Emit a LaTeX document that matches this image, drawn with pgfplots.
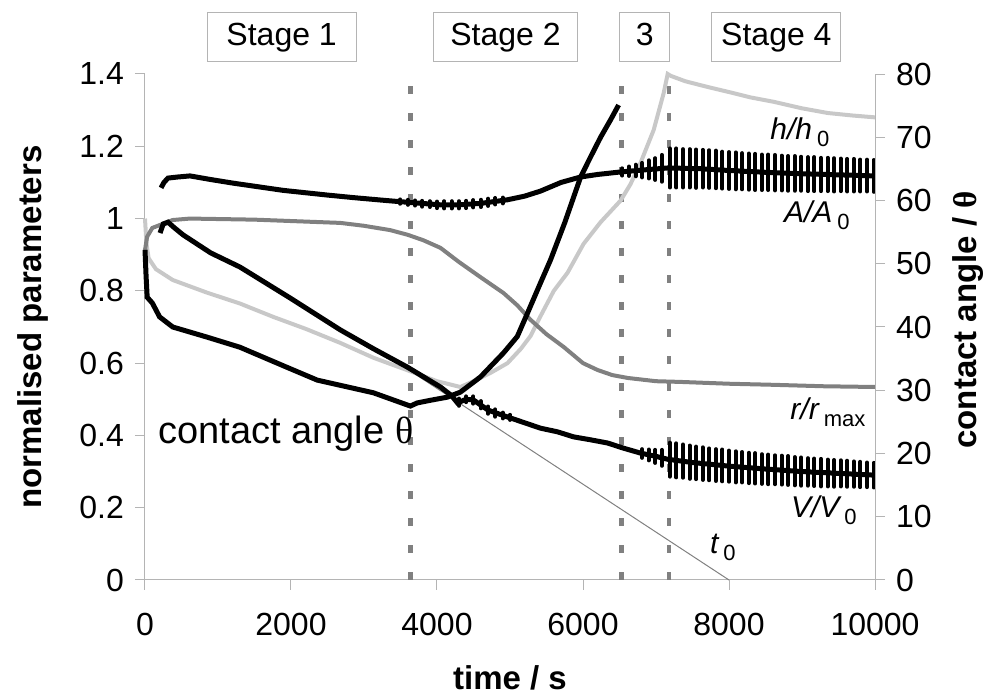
\documentclass[border=0pt]{standalone}
\usepackage{fontspec}
\setmainfont{Liberation Sans}
\newfontfamily\serifgr{Liberation Serif}
\usepackage{pgfplots}
\pgfplotsset{compat=1.18}
\usepackage{pgfplotstable}
\definecolor{lgray}{RGB}{200,200,200}
\definecolor{mgray}{RGB}{128,128,128}
\definecolor{axgray}{RGB}{180,180,180}
\definecolor{dgray}{RGB}{128,128,128}
\newcommand\tickfont{\fontsize{16}{19}\selectfont}
\newcommand\labfont{\fontsize{16.5}{20}\selectfont\bfseries}
\newcommand\curvefont{\fontsize{15}{18}\selectfont\itshape}
\newcommand\sub[1]{\,{\upshape\fontsize{11}{12}\selectfont\raisebox{-3.5pt}{#1}}}

% h/h0 (light grey)
\pgfplotstableread{
t v
0 1.00
20 0.93
50 0.89
150 0.86
380 0.83
850 0.795
1300 0.765
1756 0.728
2200 0.695
2675 0.656
3128 0.615
3600 0.58
4000 0.55
4321 0.534
4500 0.55
4733 0.573
4966 0.60
5150 0.64
5281 0.675
5418 0.73
5600 0.80
5788 0.85
6008 0.93
6241 0.99
6516 1.05
6650 1.095
6790 1.155
6968 1.245
7105 1.347
7160 1.40
7200 1.395
7400 1.38
7709 1.364
8000 1.35
8300 1.335
8614 1.323
9000 1.305
9355 1.292
9700 1.285
10000 1.28
}\hdata
% r/rmax (mid grey)
\pgfplotstableread{
t v
0 0.913
30 0.95
100 0.974
380 0.996
617 1.0
1500 0.997
2675 0.988
3000 0.98
3360 0.968
3600 0.955
3813 0.94
4047 0.919
4300 0.88
4595 0.838
4911 0.794
5100 0.76
5281 0.72
5500 0.68
5734 0.645
6000 0.60
6200 0.581
6400 0.567
6612 0.559
7000 0.55
7339 0.548
8000 0.543
8614 0.54
9300 0.536
10000 0.534
}\rdata
% A/A0 (black)
\pgfplotstableread{
t v
220 1.085
260 1.10
315 1.112
450 1.115
617 1.118
900 1.108
1207 1.098
1893 1.078
2500 1.065
2853 1.058
3300 1.05
3600 1.045
4047 1.038
4300 1.038
4600 1.042
4966 1.052
5200 1.062
5418 1.076
5700 1.10
5967 1.115
6200 1.122
6516 1.129
6800 1.134
7160 1.14
7600 1.138
8000 1.133
8500 1.128
9000 1.124
9500 1.121
10000 1.118
}\adata
\pgfplotstableread{
t v e
3500 1.047 0.006
3600 1.045 0.007
3700 1.043 0.007
3800 1.041 0.008
3900 1.040 0.008
4000 1.038 0.009
4100 1.038 0.010
4200 1.038 0.010
4300 1.038 0.010
4400 1.039 0.010
4500 1.041 0.010
4600 1.042 0.010
4700 1.045 0.010
4800 1.048 0.009
4900 1.050 0.008
6540 1.129 0.010
6630 1.131 0.013
6720 1.133 0.016
6810 1.134 0.020
6900 1.136 0.025
6990 1.137 0.030
7080 1.139 0.037
7190 1.140 0.054
7280 1.140 0.054
7370 1.139 0.053
7460 1.139 0.053
7550 1.138 0.053
7640 1.138 0.052
7730 1.137 0.052
7820 1.136 0.052
7910 1.134 0.051
8000 1.133 0.051
8090 1.132 0.051
8180 1.131 0.050
8270 1.130 0.050
8360 1.129 0.050
8450 1.128 0.049
8540 1.128 0.049
8630 1.127 0.049
8720 1.126 0.048
8810 1.125 0.048
8900 1.125 0.048
8990 1.124 0.047
9080 1.123 0.047
9170 1.123 0.047
9260 1.122 0.046
9350 1.122 0.046
9440 1.121 0.046
9530 1.121 0.045
9620 1.120 0.045
9710 1.120 0.045
9800 1.119 0.044
9890 1.119 0.044
9980 1.118 0.044
}\abars
% V/V0 (black)
\pgfplotstableread{
t v
206 0.96
250 0.985
315 0.99
400 0.975
521 0.955
900 0.905
1300 0.866
1990 0.78
2675 0.692
3128 0.64
3594 0.589
4047 0.534
4200 0.51
4280 0.49
4400 0.50
4500 0.498
4700 0.47
4966 0.451
5200 0.435
5418 0.42
5650 0.41
5871 0.396
6100 0.388
6337 0.379
6550 0.365
6790 0.351
7000 0.342
7160 0.334
7500 0.325
8000 0.315
8500 0.307
9000 0.30
9500 0.295
10000 0.29
}\vdata
\pgfplotstableread{
t v e
4300 0.492 0.010
4400 0.500 0.008
4500 0.498 0.010
4600 0.485 0.010
4700 0.470 0.010
4800 0.462 0.010
4900 0.455 0.008
5000 0.450 0.007
6810 0.350 0.012
6900 0.346 0.015
6990 0.342 0.018
7080 0.338 0.022
7190 0.333 0.047
7280 0.331 0.047
7370 0.329 0.046
7460 0.326 0.046
7550 0.324 0.045
7640 0.322 0.045
7730 0.320 0.044
7820 0.318 0.044
7910 0.317 0.044
8000 0.315 0.043
8090 0.313 0.043
8180 0.312 0.042
8270 0.310 0.042
8360 0.309 0.042
8450 0.307 0.041
8540 0.306 0.041
8630 0.305 0.040
8720 0.304 0.040
8810 0.303 0.040
8900 0.301 0.039
8990 0.300 0.039
9080 0.299 0.038
9170 0.298 0.038
9260 0.297 0.038
9350 0.296 0.037
9440 0.295 0.037
9530 0.295 0.036
9620 0.294 0.036
9710 0.293 0.035
9800 0.292 0.035
9890 0.291 0.034
9980 0.290 0.034
}\vbars
% contact angle (black, right axis, degrees)
\pgfplotstableread{
t th
0 52.2
15 48
30 44.7
100 43.8
200 41.6
380 40.0
850 38.4
1300 36.8
1950 33.6
2360 31.6
3128 29.6
3635 27.5
3730 28.0
3950 28.5
4140 28.9
4320 29.7
4595 32.1
4911 35.9
5100 38.5
5240 42.2
5400 46.5
5555 50.6
5750 56.5
5967 63.7
6100 66.8
6241 70.0
6380 72.8
6488 75.1
}\thdata

\begin{document}
\begin{tikzpicture}
\begin{axis}[name=main,
  scale only axis, width=365pt, height=253pt,
  xmin=0, xmax=10000, ymin=0, ymax=1.4,
  axis x line*=bottom, axis y line*=left,
  axis line style={draw=axgray, line width=0.5pt},
  tick align=outside, major tick length=5pt,
  tick style={draw=axgray, line width=0.5pt},
  xtick={0,2000,4000,6000,8000,10000},
  ytick={0,0.2,0.4,0.6,0.8,1,1.2,1.4},
  scaled x ticks=false, scaled y ticks=false,
  minor tick num=0,
  tick label style={font=\tickfont},
  /pgf/number format/assume math mode=true,
  /pgf/number format/1000 sep={},
  xticklabel style={yshift=-8pt},
  yticklabel style={xshift=-2pt},
  xlabel={time / s},
  ylabel={normalised parameters},
  x label style={at={(rel axis cs:0.5,0)}, anchor=base, yshift=-55pt, font=\labfont},
  y label style={at={(rel axis cs:-0.1534,0.5)}, anchor=center, rotate=0, font=\labfont},
  clip=false,
]
% stage dividers
\draw[dgray, line width=2.2pt, dash pattern=on 4pt off 9.5pt] (axis cs:3635,0) -- (axis cs:3635,1.37);
\draw[dgray, line width=2.2pt, dash pattern=on 4pt off 9.5pt] (axis cs:6530,0) -- (axis cs:6530,1.37);
\draw[dgray, line width=2.2pt, dash pattern=on 4pt off 9.5pt] (axis cs:7174,0) -- (axis cs:7174,1.37);
% t0 extrapolation
\addplot[mgray, line width=0.5pt] coordinates {(3600,0.583) (8000,0)};
\addplot[lgray, line width=2pt] table[x=t,y=v] {\hdata};
\addplot[mgray, line width=2pt] table[x=t,y=v] {\rdata};
\addplot[black, line width=2.5pt] table[x=t,y=v] {\adata};
\addplot[draw=none, forget plot, error bars/.cd, y dir=both, y explicit, error mark=none,
  error bar style={draw=black, solid, line width=2pt, line cap=round}]
  table[x=t,y=v,y error=e] {\abars};
\addplot[black, line width=2.5pt] table[x=t,y=v] {\vdata};
\addplot[draw=none, forget plot, error bars/.cd, y dir=both, y explicit, error mark=none,
  error bar style={draw=black, solid, line width=2pt, line cap=round}]
  table[x=t,y=v,y error=e] {\vbars};
% curve labels
\node[font=\curvefont] at (axis cs:8971,1.240) {h/h\sub{0}};
\node[font=\curvefont] at (axis cs:9204,1.010) {A/A\sub{0}};
\node[font=\curvefont] at (axis cs:9355,0.465) {r/r\sub{max}};
\node[font=\curvefont] at (axis cs:9300,0.194) {V/V\sub{0}};
\node[font=\curvefont] at (axis cs:7915,0.089) {t\sub{0}};
\node[anchor=base west, inner sep=0pt, font=\fontsize{19}{22}\selectfont] at (axis cs:178,0.379) {contact angle {\serifgr θ}};
% stage boxes
\tikzset{stagebox/.style={draw=axgray, line width=0.5pt, fill=white, minimum height=24.5pt, inner sep=0pt, text height=11.5pt, text depth=3.5pt, font=\tickfont}}
\node[stagebox, minimum width=74.5pt] at (axis cs:1872,1.501) {Stage 1};
\node[stagebox, minimum width=72pt] at (axis cs:4938,1.501) {Stage 2};
\node[stagebox, minimum width=25pt] at (axis cs:6845,1.501) {3};
\node[stagebox, minimum width=64.5pt] at (axis cs:8649,1.501) {Stage 4};
\end{axis}
\begin{axis}[
  scale only axis, width=365pt, height=253pt,
  xmin=0, xmax=10000, ymin=0, ymax=80,
  axis x line=none, axis y line*=right,
  axis line style={draw=axgray, line width=0.5pt},
  tick align=outside, major tick length=5pt,
  tick style={draw=axgray, line width=0.5pt},
  ytick={0,10,20,30,40,50,60,70,80},
  tick label style={font=\tickfont},
  /pgf/number format/assume math mode=true,
  yticklabel style={xshift=2pt},
  ylabel={contact angle / {\serifgr θ}},
  y label style={at={(rel axis cs:1.127,0.514)}, anchor=center, rotate=0, font=\labfont},
  clip=false,
]
\addplot[black, line width=2.5pt] table[x=t,y=th] {\thdata};
\end{axis}
\pgfresetboundingbox
\path ([shift={(-72.5pt,-59.5pt)}]main.south west) rectangle ([shift={(55.5pt,37pt)}]main.north east);
\end{tikzpicture}
\end{document}
